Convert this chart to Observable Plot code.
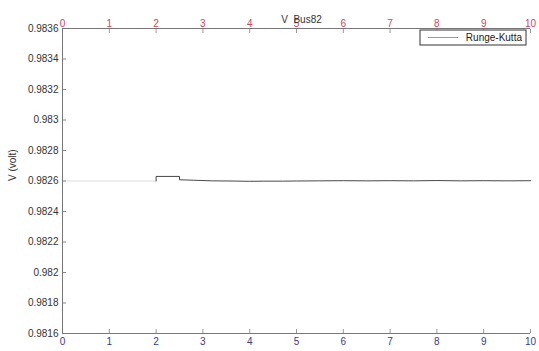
<!DOCTYPE html>
<html><head><meta charset="utf-8">
<script src="https://cdn.jsdelivr.net/npm/d3@7"></script>
<script src="https://cdn.jsdelivr.net/npm/@observablehq/plot@0.6"></script>
<style>
body{margin:0;background:#fff;}
#chart{position:absolute;left:0;top:0;}
</style>
</head><body><div id="chart"></div>
<script>
const title = "V  Bus82";
const yLabel = "V (volt)";
const seriesName = "Runge-Kutta";
const xTicks = [0,1,2,3,4,5,6,7,8,9,10];
const yTicks = [0.9816,0.9818,0.982,0.9822,0.9824,0.9826,0.9828,0.983,0.9832,0.9834,0.9836];
const yTickLabels = ["0.9816","0.9818","0.982","0.9822","0.9824","0.9826","0.9828","0.983","0.9832","0.9834","0.9836"];
const preT = [0, 2];
const preV = [0.98260, 0.98260];
const postT = [2, 2, 2.5, 2.5, 2.8, 3.2, 3.6, 4.0, 4.3, 4.7, 5.0, 5.5, 6.0, 6.5, 7.0, 7.5, 8.0, 8.5, 9.0, 9.5, 10];
const postV = [0.98260, 0.98263, 0.98263, 0.982608, 0.982605, 0.982601, 0.982600, 0.982598, 0.982599, 0.982599, 0.982600, 0.982601, 0.982602, 0.982601, 0.982602, 0.982601, 0.982603, 0.982601, 0.982602, 0.982601, 0.982602];

const pre = preT.map((t,i)=>({t, v: preV[i]}));
const post = postT.map((t,i)=>({t, v: postV[i]}));

const W = 539, H = 351;
const plot = Plot.plot({
  width: W, height: H,
  marginLeft: 62, marginRight: 9, marginTop: 28, marginBottom: 18,
  style: {fontFamily: "'Liberation Sans', Arial, sans-serif", fontSize: "10px", background: "#fff", overflow: "visible"},
  x: {domain: [0,10]},
  y: {domain: [0.9816, 0.9836]},
  marks: [
    Plot.line(pre, {x: "t", y: "v", stroke: "#dcdcdc", strokeWidth: 1}),
    Plot.line(post, {x: "t", y: "v", stroke: "#333", strokeWidth: 0.9, curve: "linear"}),
    Plot.axisX({anchor: "bottom", ticks: xTicks, tickSize: -4, tickPadding: 8, stroke: "#999", color: "#3a3a8c", label: null}),
    Plot.axisX({anchor: "top", ticks: xTicks, tickSize: -4, tickPadding: 6, stroke: "#999", color: "#cc4466", label: null}),
    Plot.axisY({anchor: "left", ticks: yTicks, tickFormat: (d)=>yTickLabels[yTicks.indexOf(d)] ?? d, tickSize: -4, tickPadding: 8, stroke: "#888", color: "#333", label: null}),
    Plot.ruleX([0], {stroke: "#777"}),
    Plot.ruleY([0.9816], {stroke: "#777"}),
    Plot.ruleY([0.9836], {stroke: "#777"}),
    Plot.text([title], {frameAnchor: "top", dy: -13, dx: 5, fontSize: 10, fill: "#333"}),
    Plot.text([yLabel], {frameAnchor: "left", dx: -50, rotate: -90, fontSize: 10, fill: "#333"})
  ]
});
document.getElementById("chart").appendChild(plot);

const svg = d3.select(plot);
const lx0 = 420, ly0 = 30, lw = 106, lh = 15;
const g = svg.append("g");
g.append("rect").attr("x", lx0).attr("y", ly0).attr("width", lw).attr("height", lh).attr("fill", "#fff").attr("stroke", "#333").attr("stroke-width", 1);
g.append("line").attr("x1", lx0+8).attr("x2", lx0+38).attr("y1", ly0+lh/2).attr("y2", ly0+lh/2).attr("stroke", "#999");
g.append("text").attr("x", lx0+lw-4).attr("y", ly0+lh/2).attr("dy", "0.35em").attr("text-anchor", "end").attr("font-size", 10).attr("fill", "#222").attr("font-family", "'Liberation Sans', Arial, sans-serif").text(seriesName);
</script>
</body></html>
